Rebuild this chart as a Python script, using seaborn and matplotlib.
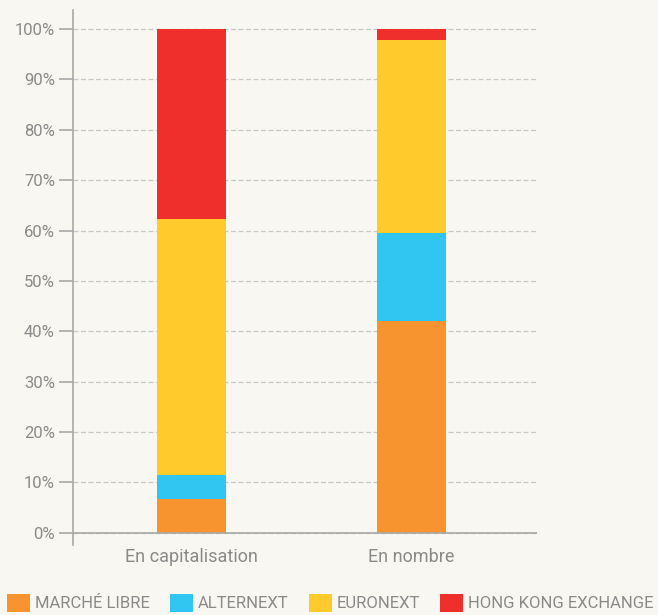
import numpy as np
import pandas as pd
import matplotlib
matplotlib.use("Agg")
import matplotlib.pyplot as plt
from matplotlib.patches import Patch
import seaborn as sns

sns.set_theme(style="white")
plt.rcParams['font.family'] = ['Roboto', 'DejaVu Sans']

categories = ["En capitalisation", "En nombre"]
series = ["MARCHÉ LIBRE", "ALTERNEXT", "EURONEXT", "HONG KONG EXCHANGE"]
marche_libre = [6.7, 42.1]
alternext = [4.8, 17.4]
euronext = [50.8, 38.3]
hong_kong = [37.7, 2.2]
colors = ["#f7942f", "#31c6f2", "#ffcb2c", "#ee2f2b"]

BG = "#f8f7f1"
TXT = "#8a8a8a"

values = np.array([marche_libre, alternext, euronext, hong_kong])
cum = np.cumsum(values, axis=0)

fig = plt.figure(figsize=(6.58, 6.15), dpi=100, facecolor=BG)
ax = fig.add_axes([0.111, 0.114, 0.705, 0.870])
ax.set_facecolor(BG)

# draw stacks from top down so lower layers cover the upper ones
for k in range(len(series) - 1, -1, -1):
    df = pd.DataFrame({"cat": categories, "val": cum[k]})
    sns.barplot(data=df, x="cat", y="val", color=colors[k], width=0.314,
                saturation=1, linewidth=0, edgecolor="none", ax=ax, zorder=3)

ax.set_xlim(-0.539, 1.57)
ax.set_ylim(-2.4, 103.8)
ax.set_yticks(np.arange(0, 101, 10))
ax.set_yticklabels([f"{v}%" for v in range(0, 101, 10)])
ax.yaxis.grid(True, linestyle=(0, (4, 2)), color="#c8c8c8", linewidth=0.9, zorder=0)
ax.axhline(0, color="#a8a8a8", linewidth=1.2, zorder=4)
ax.set_xlabel("")
ax.set_ylabel("")
for s in ["top", "right", "bottom"]:
    ax.spines[s].set_visible(False)
ax.spines["left"].set_color("#a8a8a8")
ax.spines["left"].set_linewidth(1.2)
ax.tick_params(axis="y", left=True, length=10, width=1.2, color="#a8a8a8",
               labelsize=12, labelcolor=TXT, pad=3)
ax.tick_params(axis="x", bottom=False, labelsize=13, labelcolor=TXT, pad=-4)

handles = [Patch(facecolor=c, edgecolor="none") for c in colors]
fig.legend(handles, series, loc="lower left", bbox_to_anchor=(-0.012, -0.019),
           ncol=4, frameon=False, fontsize=12, labelcolor=TXT,
           handlelength=1.4, handleheight=1.3, handletextpad=0.28,
           columnspacing=1.2)

fig.savefig("out.png", dpi=100, facecolor=BG)
